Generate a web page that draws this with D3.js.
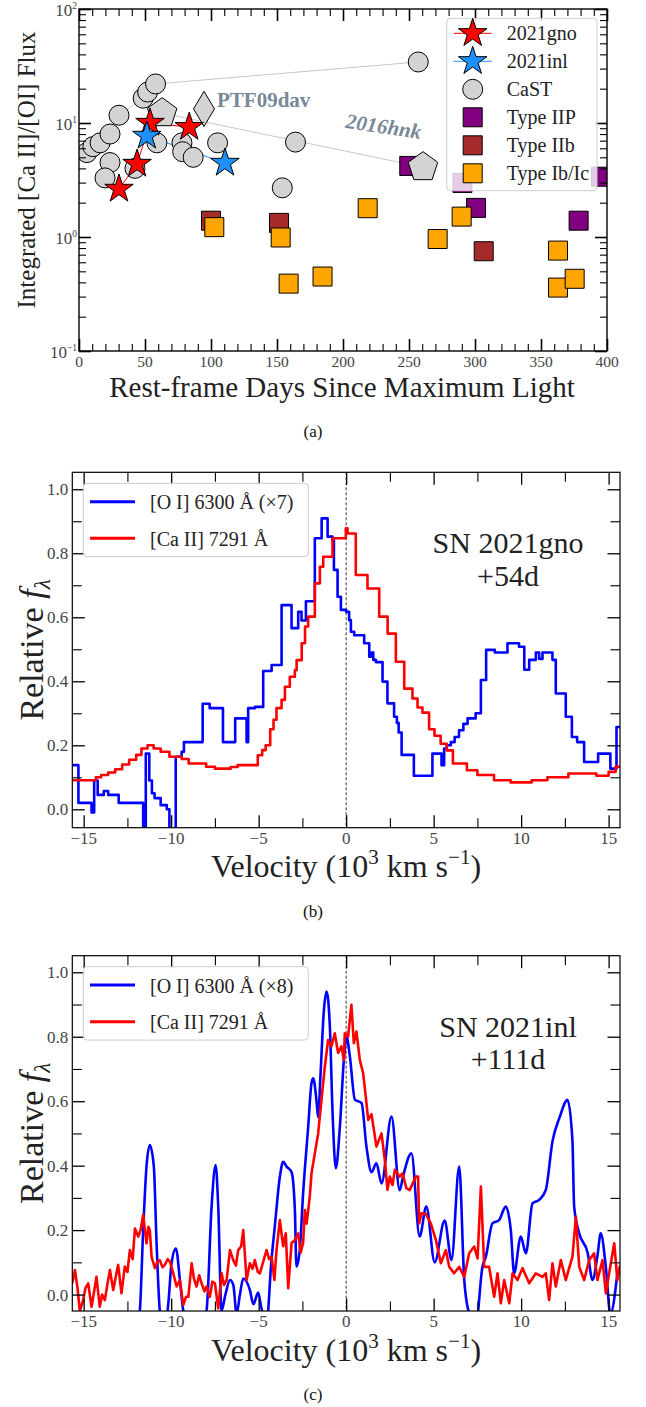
<!DOCTYPE html>
<html>
<head>
<meta charset="utf-8">
<script src="https://cdn.jsdelivr.net/npm/d3@7"></script>
<style>
  html, body { margin: 0; padding: 0; background: #fff; }
  svg { display: block; }
  text { font-family: "Liberation Serif", "DejaVu Serif", serif; }
</style>
</head>
<body>
<svg id="fig" width="646" height="1407"></svg>
<script>
// ================= Panel (a): integrated [Ca II]/[O I] flux ratio =================
// [rest-frame days since maximum, ratio]
const sn2021gno = [[30.3, 2.64], [44.0, 4.37], [53.8, 10.0], [83.5, 9.2]];
const sn2021inl = [[51.4, 7.7], [110.6, 4.46]];
const castPoints = [
  [6, 5.5], [10.5, 6.2], [16, 6.7], [23.5, 8.0], [23.5, 4.5], [19.7, 3.3],
  [30.3, 11.7], [42.4, 4.0], [48.6, 16.5], [52, 18.7], [58, 22], [59, 6.7],
  [78, 6.7], [78.5, 5.6], [86.5, 5.0], [105, 6.7], [154, 2.7], [164, 6.8], [257, 34.3]
];
const castTrack = [[30.3, 11.7], [48.6, 16.5], [52, 18.7], [58, 22], [257, 34.3]];
const sn2016hnk = [[63, 12.2], [260.6, 4.1]];
const ptf09dav = [[94.7, 13.3]];
const typeIIP = [[250.2, 4.2], [290.5, 2.98], [300.8, 1.8], [378.5, 1.39], [395.5, 3.38]];
const typeIIb = [[100, 1.39], [151.5, 1.33], [306.6, 0.75]];
const typeIbc = [[102.5, 1.22], [152.8, 0.99], [158.8, 0.39], [184.5, 0.45], [218.7, 1.79],
  [271.7, 0.96], [289.9, 1.51], [362.9, 0.76], [362.9, 0.36], [375.5, 0.43]];

const dayMajor = [0, 50, 100, 150, 200, 250, 300, 350, 400];
const dayMinor = d3.range(10, 400, 10).filter(d => d % 50 !== 0);
const ratioMajor = [0.1, 1, 10, 100];
const ratioExp = ["\u22121", "0", "1", "2"];
const ratioMinor = [0.1, 1, 10].flatMap(d => [2, 3, 4, 5, 6, 7, 8, 9].map(k => k * d));

const legendA = [
  {label: "2021gno", kind: "star", color: "#ff0000"},
  {label: "2021inl", kind: "star", color: "#1e90ff"},
  {label: "CaST", kind: "circle", color: "#d3d3d3"},
  {label: "Type IIP", kind: "square", color: "#800080"},
  {label: "Type IIb", kind: "square", color: "#a52a2a"},
  {label: "Type Ib/Ic", kind: "square", color: "#ffa500"}
];

// ================= Panel (b): SN 2021gno +54d line profiles (binned) =================
// [velocity (10^3 km/s), relative flux]
const gnoOI = [
  [-15.65, 0.138], [-15.3, 0.02], [-14.55, -0.01], [-14.4, 0.09], [-14.2, 0.045], [-13.85, 0.057],
  [-13.6, 0.045], [-13.0, 0.02], [-11.6, -0.08], [-11.45, 0.174], [-11.25, 0.09], [-11.1, 0.05],
  [-10.95, 0.035], [-10.6, 0.013], [-10.25, 0.0], [-10.1, -0.08], [-9.74, 0.164], [-9.4, 0.18],
  [-9.27, 0.21], [-8.2, 0.33], [-7.8, 0.316], [-7.04, 0.21], [-6.34, 0.284], [-5.69, 0.21],
  [-5.6, 0.316], [-5.21, 0.32], [-4.74, 0.432], [-4.26, 0.451], [-3.69, 0.638], [-3.12, 0.566],
  [-2.74, 0.617], [-2.55, 0.59], [-2.3, 0.65], [-1.79, 0.847], [-1.4, 0.909], [-1.06, 0.852],
  [-0.78, 0.84], [-0.7, 0.748], [-0.49, 0.664], [-0.3, 0.623], [0.0, 0.617], [0.17, 0.591],
  [0.27, 0.555], [0.46, 0.544], [1.03, 0.519], [1.32, 0.477], [1.45, 0.49], [1.55, 0.467],
  [1.7, 0.46], [2.08, 0.399], [2.36, 0.331], [2.74, 0.289], [2.9, 0.27], [3.0, 0.24],
  [3.17, 0.17], [3.87, 0.105], [4.93, 0.174], [5.45, 0.138], [5.6, 0.19], [5.75, 0.2],
  [5.98, 0.21], [6.2, 0.226], [6.45, 0.247], [6.7, 0.267], [6.94, 0.284], [7.4, 0.30],
  [7.7, 0.404], [8.0, 0.498], [8.5, 0.49], [9.22, 0.519], [9.88, 0.508], [10.18, 0.436],
  [10.46, 0.467], [10.84, 0.49], [11.03, 0.47], [11.22, 0.49], [11.79, 0.467], [11.98, 0.362],
  [12.55, 0.289], [12.9, 0.226], [13.2, 0.21], [13.6, 0.148], [14.4, 0.174], [15.1, 0.127],
  [15.45, 0.257], [15.65, 0.257]
];
const gnoCaII = [
  [-15.65, 0.091], [-14.3, 0.10], [-14.0, 0.107], [-13.6, 0.115], [-13.2, 0.125], [-12.8, 0.14],
  [-12.4, 0.155], [-12.0, 0.17], [-11.7, 0.19], [-11.35, 0.20], [-11.0, 0.19], [-10.6, 0.18],
  [-10.1, 0.164], [-9.4, 0.157], [-9.0, 0.143], [-8.0, 0.133], [-7.5, 0.127], [-6.6, 0.132],
  [-6.2, 0.138], [-5.05, 0.169], [-4.8, 0.185], [-4.6, 0.2], [-4.34, 0.25], [-4.15, 0.28],
  [-3.98, 0.316], [-3.69, 0.342], [-3.5, 0.383], [-3.22, 0.414], [-2.93, 0.435], [-2.83, 0.466],
  [-2.54, 0.519], [-2.35, 0.571], [-2.17, 0.602], [-1.79, 0.706], [-1.5, 0.758], [-1.31, 0.789],
  [-0.78, 0.847], [-0.02, 0.878], [0.08, 0.862], [0.55, 0.732], [1.22, 0.69], [1.89, 0.602],
  [2.37, 0.549], [2.84, 0.461], [3.32, 0.377], [3.79, 0.346], [4.08, 0.318], [4.36, 0.302],
  [4.74, 0.25], [5.05, 0.23], [5.4, 0.205], [5.75, 0.184], [6.1, 0.143], [6.9, 0.122],
  [7.5, 0.107], [8.45, 0.091], [9.4, 0.084], [10.6, 0.091], [11.5, 0.1], [12.7, 0.112],
  [14.3, 0.105], [15.0, 0.117], [15.4, 0.133], [15.65, 0.133]
];

// ================= Panel (c): SN 2021inl +111d line profiles =================
const inlOI = [
  [-11.95, -0.1], [-11.79, -0.05], [-11.6, 0.2], [-11.41, 0.397], [-11.22, 0.464], [-10.99, 0.397],
  [-10.84, 0.169], [-10.65, -0.05], [-10.4, -0.12], [-10.15, -0.02], [-9.98, 0.097], [-9.73, 0.143],
  [-9.5, 0.045], [-9.31, -0.05], [-8.7, -0.15], [-7.98, -0.05], [-7.69, 0.273], [-7.46, 0.402],
  [-7.31, 0.273], [-7.12, -0.05], [-6.9, 0.0], [-6.64, 0.045], [-6.45, 0.03], [-6.26, -0.06],
  [-6.07, 0.0], [-5.88, 0.05], [-5.5, 0.014], [-5.3, -0.03], [-5.03, 0.006], [-4.85, -0.04],
  [-4.55, -0.09], [-4.27, 0.107], [-4.08, 0.21], [-3.79, 0.365], [-3.6, 0.412], [-3.4, 0.397],
  [-3.12, 0.38], [-2.93, 0.262], [-2.84, 0.087], [-2.65, 0.139], [-2.46, 0.314], [-2.17, 0.52],
  [-1.98, 0.656], [-1.88, 0.671], [-1.7, 0.604], [-1.6, 0.55], [-1.47, 0.677], [-1.27, 0.884],
  [-1.12, 0.94], [-0.93, 0.83], [-0.78, 0.57], [-0.59, 0.392], [-0.36, 0.52], [-0.13, 0.728],
  [0.02, 0.80], [0.21, 0.74], [0.5, 0.605], [0.88, 0.594], [1.16, 0.459], [1.45, 0.38],
  [1.73, 0.407], [2.02, 0.345], [2.59, 0.552], [3.06, 0.324], [3.25, 0.366], [3.73, 0.438],
  [4.2, 0.18], [4.58, 0.273], [5.06, 0.10], [5.63, 0.23], [6.02, 0.107], [6.46, 0.397],
  [6.75, 0.045], [7.03, -0.06], [7.4, -0.1], [7.79, 0.086], [7.98, 0.117], [8.36, 0.221],
  [8.74, 0.231], [9.12, 0.273], [9.41, 0.2], [9.6, 0.066], [9.98, 0.18], [10.27, 0.128],
  [10.65, 0.283], [11.03, 0.294], [11.41, 0.325], [11.79, 0.475], [12.2, 0.55], [12.65, 0.604],
  [12.93, 0.48], [13.03, 0.273], [13.32, 0.19], [13.8, 0.13], [14.08, 0.045], [14.36, 0.12],
  [14.55, 0.19], [14.84, 0.086], [15.1, -0.06], [15.5, 0.066]
];
const inlCaII = [
  [-15.65, 0.035], [-15.5, 0.076], [-15.35, 0.02], [-15.22, -0.051], [-15.03, -0.017], [-14.9, 0.02],
  [-14.74, 0.035], [-14.55, -0.038], [-14.4, 0.01], [-14.27, 0.055], [-14.08, -0.038], [-13.95, 0.0],
  [-13.79, -0.017], [-13.65, 0.03], [-13.5, 0.076], [-13.31, 0.014], [-13.15, 0.06], [-13.03, 0.092],
  [-12.84, 0.004], [-12.65, 0.087], [-12.5, 0.07], [-12.36, 0.138], [-12.2, 0.11], [-12.07, 0.205],
  [-11.88, 0.18], [-11.75, 0.2], [-11.6, 0.247], [-11.41, 0.159], [-11.3, 0.21], [-11.22, 0.2],
  [-11.12, 0.117], [-10.93, 0.082], [-10.8, 0.1], [-10.65, 0.107], [-10.5, 0.085], [-10.36, 0.092],
  [-10.2, 0.11], [-10.07, 0.102], [-9.88, 0.066], [-9.69, 0.025], [-9.5, 0.045], [-9.31, -0.033],
  [-9.15, -0.007], [-9.02, -0.007], [-8.83, 0.097], [-8.7, 0.05], [-8.55, 0.025], [-8.4, 0.06],
  [-8.26, 0.035], [-8.1, 0.01], [-7.98, 0.025], [-7.79, -0.007], [-7.65, 0.04], [-7.5, 0.035],
  [-7.31, -0.043], [-7.12, 0.066], [-6.98, 0.03], [-6.83, 0.045], [-6.64, 0.138], [-6.45, 0.107],
  [-6.3, 0.09], [-6.17, 0.138], [-6.0, 0.15], [-5.88, 0.2], [-5.69, 0.045], [-5.5, 0.097],
  [-5.35, 0.08], [-5.22, 0.107], [-5.05, 0.07], [-4.93, 0.066], [-4.75, 0.1], [-4.55, 0.138],
  [-4.4, 0.11], [-4.26, 0.117], [-4.1, 0.045], [-3.98, 0.138], [-3.79, 0.231], [-3.6, 0.15],
  [-3.45, 0.19], [-3.31, 0.02], [-3.12, 0.16], [-2.93, 0.169], [-2.74, 0.19], [-2.6, 0.13],
  [-2.46, 0.16], [-2.36, 0.262], [-2.26, 0.22], [-2.17, 0.26], [-2.07, 0.31], [-1.98, 0.376],
  [-1.79, 0.438], [-1.6, 0.50], [-1.41, 0.604], [-1.22, 0.707], [-1.03, 0.79], [-0.84, 0.77],
  [-0.65, 0.811], [-0.46, 0.75], [-0.27, 0.77], [-0.13, 0.728], [-0.08, 0.811], [0.11, 0.80],
  [0.3, 0.899], [0.44, 0.78], [0.59, 0.816], [0.78, 0.728], [0.97, 0.687], [1.12, 0.615],
  [1.26, 0.542], [1.45, 0.56], [1.73, 0.459], [2.02, 0.5], [2.21, 0.418], [2.36, 0.325],
  [2.5, 0.366], [2.65, 0.34], [2.78, 0.387], [3.06, 0.366], [3.22, 0.376], [3.44, 0.33],
  [3.63, 0.324], [3.98, 0.366], [4.11, 0.366], [4.17, 0.221], [4.3, 0.252], [4.55, 0.25],
  [4.84, 0.221], [5.13, 0.169], [5.41, 0.097], [5.7, 0.138], [5.89, 0.086], [6.17, 0.066],
  [6.46, 0.086], [6.75, 0.055], [7.03, 0.128], [7.32, 0.149], [7.51, 0.112], [7.7, 0.335],
  [7.89, 0.086], [8.17, 0.086], [8.46, -0.007], [8.65, 0.066], [8.84, -0.027], [9.03, 0.045],
  [9.32, -0.027], [9.51, 0.066], [9.79, 0.045], [10.08, 0.082], [10.46, 0.035], [10.84, 0.066],
  [11.22, 0.055], [11.41, 0.066], [11.6, -0.017], [11.79, 0.097], [11.98, 0.025], [12.27, 0.107],
  [12.55, 0.045], [12.93, 0.117], [13.13, 0.241], [13.32, 0.086], [13.6, 0.045], [13.89, 0.107],
  [14.17, 0.128], [14.36, 0.045], [14.65, 0.107], [14.84, 0.004], [15.03, 0.066], [15.32, 0.159],
  [15.5, 0.045], [15.65, 0.09]
];

const velMajor = [-15, -10, -5, 0, 5, 10, 15];
const velMinor = [-12.5, -7.5, -2.5, 2.5, 7.5, 12.5];
const fluxMajor = [0, 0.2, 0.4, 0.6, 0.8, 1.0];
const fluxMinor = [0.1, 0.3, 0.5, 0.7, 0.9];

const spectraPanels = [
  {id: "b", name: ["SN 2021gno", "+54d"], scale: "7", oi: gnoOI, ca: gnoCaII, step: true,
   box: {l: 72.3, r: 620, t: 472.3, b: 827.7}, yDom: [-0.0575, 1.053], caption: "(b)", capY: 917},
  {id: "c", name: ["SN 2021inl", "+111d"], scale: "8", oi: inlOI, ca: inlCaII, step: false,
   box: {l: 72.3, r: 620, t: 955.7, b: 1311}, yDom: [-0.051, 1.0515], caption: "(c)", capY: 1400}
];

// ================= drawing helpers =================
const svg = d3.select("#fig");
const LABEL_GRAY = "#444";

function tickSet(g, axisFn, scale, transform, values, len, width) {
  const a = g.append("g").attr("transform", transform)
    .call(axisFn(scale).tickValues(values).tickSize(-len).tickFormat(""));
  a.select(".domain").remove();
  a.selectAll(".tick line").attr("stroke", "#000").attr("stroke-width", width);
}

function frameTicks(g, x, y, box, o) {
  tickSet(g, d3.axisBottom, x, `translate(0,${box.b})`, o.xMajor, o.majLen, o.majW);
  tickSet(g, d3.axisBottom, x, `translate(0,${box.b})`, o.xMinor, o.minLen, o.minW);
  tickSet(g, d3.axisTop, x, `translate(0,${box.t})`, o.xMajor, o.majLen, o.majW);
  tickSet(g, d3.axisTop, x, `translate(0,${box.t})`, o.xMinor, o.minLen, o.minW);
  tickSet(g, d3.axisLeft, y, `translate(${box.l},0)`, o.yMajor, o.majLen, o.majW);
  tickSet(g, d3.axisLeft, y, `translate(${box.l},0)`, o.yMinor, o.minLen, o.minW);
  tickSet(g, d3.axisRight, y, `translate(${box.r},0)`, o.yMajor, o.majLen, o.majW);
  tickSet(g, d3.axisRight, y, `translate(${box.r},0)`, o.yMinor, o.minLen, o.minW);
  g.append("rect").attr("x", box.l).attr("y", box.t)
    .attr("width", box.r - box.l).attr("height", box.b - box.t)
    .attr("fill", "none").attr("stroke", "#000").attr("stroke-width", o.frameW);
}

function clipFor(id, box) {
  svg.append("defs").append("clipPath").attr("id", id)
    .append("rect").attr("x", box.l).attr("y", box.t)
    .attr("width", box.r - box.l).attr("height", box.b - box.t);
  return `url(#${id})`;
}

// custom marker shapes (size = squared circumradius)
const pentagon = {
  draw(ctx, size) {
    const r = Math.sqrt(size);
    for (let i = 0; i < 5; i++) {
      const a = -Math.PI / 2 + i * 2 * Math.PI / 5;
      if (i === 0) ctx.moveTo(r * Math.cos(a), r * Math.sin(a));
      else ctx.lineTo(r * Math.cos(a), r * Math.sin(a));
    }
    ctx.closePath();
  }
};
const thinDiamond = {
  draw(ctx, size) {
    const h = Math.sqrt(size), w = h * 0.6;
    ctx.moveTo(0, -h); ctx.lineTo(w, 0); ctx.lineTo(0, h); ctx.lineTo(-w, 0); ctx.closePath();
  }
};
const STAR_SIZE = 15 * 15 / 0.8908130915292852;
const symStar = d3.symbol().type(d3.symbolStar).size(STAR_SIZE);
const symCircle = d3.symbol().type(d3.symbolCircle).size(Math.PI * 10 * 10);
const symSquare = d3.symbol().type(d3.symbolSquare).size(19 * 19);
const symPent = d3.symbol().type(pentagon).size(15.5 * 15.5);
const symDiam = d3.symbol().type(thinDiamond).size(17.5 * 17.5);

// ================= Panel (a) =================
const boxA = {l: 79, r: 607, t: 9, b: 351};
const xA = d3.scaleLinear().domain([0, 400]).range([boxA.l, boxA.r]);
const yA = d3.scaleLog().domain([0.1, 100]).range([boxA.b, boxA.t]);
const gA = svg.append("g");
const plotA = gA.append("g").attr("clip-path", clipFor("clipA", boxA));

const lineA = d3.line().x(d => xA(d[0])).y(d => yA(d[1]));
[[castTrack, "#c8c8c8"], [sn2016hnk, "#c8c8c8"], [sn2021gno, "#ff0000"], [sn2021inl, "#1e90ff"]]
  .forEach(([data, color]) => {
    plotA.append("path").datum(data).attr("d", lineA)
      .attr("fill", "none").attr("stroke", color).attr("stroke-width", 1);
  });

function markers(g, data, sym, fill) {
  g.selectAll(null).data(data).join("path")
    .attr("d", sym)
    .attr("transform", d => `translate(${xA(d[0])},${yA(d[1])})`)
    .attr("fill", fill).attr("stroke", "#000").attr("stroke-width", 1);
}
markers(plotA, typeIIP, symSquare, "#800080");
markers(plotA, typeIIb, symSquare, "#a52a2a");
markers(plotA, typeIbc, symSquare, "#ffa500");
markers(plotA, castPoints, symCircle, "#d3d3d3");
markers(plotA, sn2016hnk, symPent, "#d3d3d3");
markers(plotA, ptf09dav, symDiam, "#d3d3d3");
markers(plotA, sn2021gno, symStar, "#ff0000");
markers(plotA, sn2021inl, symStar, "#1e90ff");

// object labels
gA.append("text").attr("x", xA(ptf09dav[0][0]) + 13).attr("y", yA(ptf09dav[0][1]) - 2)
  .attr("font-size", 21).attr("font-weight", "bold").attr("fill", "#778899").text("PTF09dav");
gA.append("text")
  .attr("transform", `translate(${xA(230)},${yA(8.1)}) rotate(8.5)`)
  .attr("font-size", 21).attr("font-weight", "bold").attr("font-style", "italic")
  .attr("fill", "#778899").attr("text-anchor", "middle").text("2016hnk");

frameTicks(gA, xA, yA, boxA, {
  xMajor: dayMajor, xMinor: dayMinor, yMajor: ratioMajor, yMinor: ratioMinor,
  majLen: 12, minLen: 7, majW: 1.6, minW: 1.1, frameW: 1.4
});

// tick labels
gA.selectAll(null).data(dayMajor).join("text")
  .attr("x", d => xA(d)).attr("y", boxA.b + 16)
  .attr("text-anchor", "middle").attr("font-size", 15.5).attr("fill", LABEL_GRAY)
  .text(d => d);
const yLabA = gA.selectAll(null).data(ratioMajor).join("text")
  .attr("x", boxA.l - 2).attr("y", d => yA(d) + 6.5)
  .attr("text-anchor", "end").attr("font-size", 17).attr("fill", LABEL_GRAY);
yLabA.append("tspan").text("10");
yLabA.append("tspan").attr("dy", -7).attr("font-size", 9.5).text((d, i) => ratioExp[i]);

// axis titles
gA.append("text").attr("transform", "translate(35,170) rotate(-90)")
  .attr("text-anchor", "middle").attr("font-size", 25).attr("fill", "#222")
  .text("Integrated [Ca II]/[OI] Flux");
gA.append("text").attr("x", 342).attr("y", 397).attr("text-anchor", "middle")
  .attr("font-size", 29).attr("fill", "#222").text("Rest-frame Days Since Maximum Light");
gA.append("text").attr("x", 313).attr("y", 437).attr("text-anchor", "middle")
  .attr("font-size", 17).attr("fill", "#111").text("(a)");

// legend
const legA = gA.append("g");
legA.append("rect").attr("x", 446.7).attr("y", 18.3).attr("width", 150.3).attr("height", 172.4)
  .attr("rx", 4).attr("fill", "#fff").attr("fill-opacity", 0.8)
  .attr("stroke", "#cccccc").attr("stroke-width", 1);
legendA.forEach((d, i) => {
  const cy = 33.3 + i * 28, cx = 472.7;
  const row = legA.append("g");
  if (d.kind === "star") {
    row.append("line").attr("x1", cx - 19).attr("x2", cx + 19).attr("y1", cy).attr("y2", cy)
      .attr("stroke", d.color).attr("stroke-width", 1);
  }
  const sym = d.kind === "star" ? symStar : d.kind === "circle" ? symCircle : symSquare;
  row.append("path").attr("d", sym).attr("transform", `translate(${cx},${cy})`)
    .attr("fill", d.color).attr("stroke", "#000").attr("stroke-width", 1);
  row.append("text").attr("x", 506.7).attr("y", cy + 6.5).attr("font-size", 20)
    .attr("fill", "#222").text(d.label);
});

// ================= Panels (b) and (c) =================
spectraPanels.forEach(p => {
  const box = p.box;
  const x = d3.scaleLinear().domain([-15.65, 15.65]).range([box.l, box.r]);
  const y = d3.scaleLinear().domain(p.yDom).range([box.b, box.t]);
  const g = svg.append("g");
  const plot = g.append("g").attr("clip-path", clipFor("clip" + p.id, box));

  plot.append("line").attr("x1", x(0)).attr("x2", x(0)).attr("y1", box.t).attr("y2", box.b)
    .attr("stroke", "#000").attr("stroke-width", 0.8).attr("stroke-dasharray", "3,2");

  const line = d3.line().x(d => x(d[0])).y(d => y(d[1]))
    .curve(p.step ? d3.curveStepAfter : d3.curveMonotoneX);
  const lineCa = d3.line().x(d => x(d[0])).y(d => y(d[1]))
    .curve(p.step ? d3.curveStepAfter : d3.curveLinear);
  plot.append("path").datum(p.oi).attr("d", line).attr("fill", "none")
    .attr("stroke", "#0000ff").attr("stroke-width", 2.6).attr("stroke-linejoin", "round");
  plot.append("path").datum(p.ca).attr("d", lineCa).attr("fill", "none")
    .attr("stroke", "#ff0000").attr("stroke-width", 2.6).attr("stroke-linejoin", "round");

  frameTicks(g, x, y, box, {
    xMajor: velMajor, xMinor: velMinor, yMajor: fluxMajor, yMinor: fluxMinor,
    majLen: 12.5, minLen: 9.5, majW: 1.3, minW: 1.1, frameW: 1.2
  });

  g.selectAll(null).data(velMajor).join("text")
    .attr("x", d => x(d)).attr("y", box.b + 16)
    .attr("text-anchor", "middle").attr("font-size", 17).attr("fill", LABEL_GRAY)
    .text(d => d < 0 ? "\u2212" + Math.abs(d) : d);
  g.selectAll(null).data(fluxMajor).join("text")
    .attr("x", box.l - 4).attr("y", d => y(d) + 6)
    .attr("text-anchor", "end").attr("font-size", 17).attr("fill", LABEL_GRAY)
    .text(d => d.toFixed(1));

  // axis titles
  const yt = g.append("text")
    .attr("transform", `translate(43,${(box.t + box.b) / 2}) rotate(-90)`)
    .attr("text-anchor", "middle").attr("font-size", 34).attr("fill", "#222");
  yt.append("tspan").text("Relative ");
  yt.append("tspan").attr("font-style", "italic").text("f");
  yt.append("tspan").attr("font-style", "italic").attr("font-size", 23).attr("dy", 7).text("\u03bb");

  const xt = g.append("text").attr("x", 346).attr("y", box.b + 49.5)
    .attr("text-anchor", "middle").attr("font-size", 32).attr("fill", "#222");
  xt.append("tspan").text("Velocity (10");
  xt.append("tspan").attr("font-size", 21).attr("dy", -13).text("3");
  xt.append("tspan").attr("dy", 13).text(" km s");
  xt.append("tspan").attr("font-size", 21).attr("dy", -13).text("\u22121");
  xt.append("tspan").attr("dy", 13).text(")");

  g.append("text").attr("x", 313).attr("y", p.capY).attr("text-anchor", "middle")
    .attr("font-size", 17).attr("fill", "#111").text(p.caption);

  // object annotation
  g.append("text").attr("x", 508).attr("y", box.t + 81).attr("text-anchor", "middle")
    .attr("font-size", 30).attr("fill", "#222").text(p.name[0]);
  g.append("text").attr("x", 508).attr("y", box.t + 113.5).attr("text-anchor", "middle")
    .attr("font-size", 30).attr("fill", "#222").text(p.name[1]);

  // legend
  const lg = g.append("g").attr("transform", `translate(83.3,${box.t + 11})`);
  lg.append("rect").attr("width", 225).attr("height", 73.4).attr("rx", 4)
    .attr("fill", "#fff").attr("fill-opacity", 0.8).attr("stroke", "#cccccc").attr("stroke-width", 1);
  const rows = [
    {label: `[O I] 6300 \u00c5 (\u00d7${p.scale})`, color: "#0000ff"},
    {label: "[Ca II] 7291 \u00c5", color: "#ff0000"}
  ];
  rows.forEach((r, i) => {
    const cy = 18.4 + i * 36.6;
    lg.append("line").attr("x1", 6.7).attr("x2", 51.7).attr("y1", cy).attr("y2", cy)
      .attr("stroke", r.color).attr("stroke-width", 3);
    lg.append("text").attr("x", 66.7).attr("y", cy + 7.5).attr("font-size", 20)
      .attr("fill", "#222").text(r.label);
  });
});
</script>
</body>
</html>
